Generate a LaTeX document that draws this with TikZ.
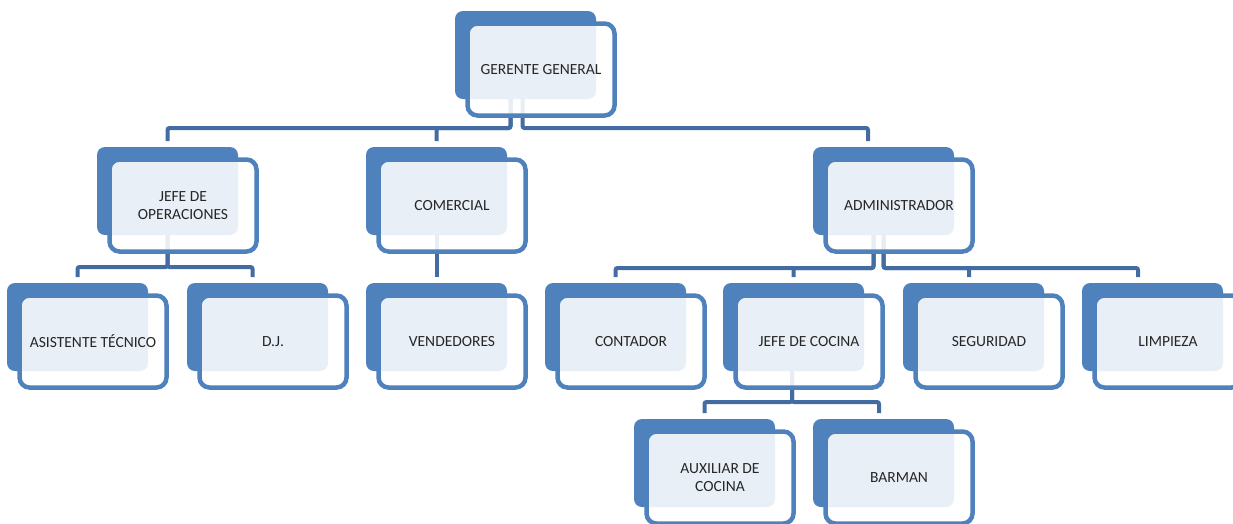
\documentclass[tikz,border=0pt]{standalone}
\usepackage{fontspec}
\setmainfont{Carlito}
\usetikzlibrary{calc}
\definecolor{boxblue}{RGB}{79,129,189}
\definecolor{connblue}{RGB}{66,108,162}
\definecolor{txtgray}{RGB}{38,38,38}
\pgfdeclarelayer{background}
\pgfsetlayers{background,main}
\tikzset{
  backbox/.style={rectangle, rounded corners=8pt, fill=boxblue, draw=none,
    minimum width=141pt, minimum height=88pt, inner sep=0pt, outer sep=0pt},
  frontbox/.style={rectangle, rounded corners=10pt, draw=boxblue, line width=4.5pt,
    fill=white, fill opacity=0.88, text opacity=1, text=txtgray,
    minimum width=147pt, minimum height=92pt, inner sep=0pt, outer sep=0pt,
    align=center, font=\fontsize{15.5pt}{18pt}\selectfont},
  conn/.style={draw=connblue, line width=4pt, rounded corners=2pt}
}
\newcommand\orgunit[4]{%
  \node[backbox] (#1-b) at (#2+70.5, #3+44) {};
  \node[frontbox] (#1) at (#2+86, #3+58.5) {#4};
}
\begin{document}
\begin{tikzpicture}[x=1pt,y=-1pt]
\useasboundingbox (0,0) rectangle (1233,523);
\clip (0,0) rectangle (1233,523);
% level 1
\orgunit{gg}{455}{11}{GERENTE GENERAL}
% level 2
\orgunit{jo}{97}{147}{JEFE DE\\OPERACIONES}
\orgunit{com}{366}{147}{COMERCIAL}
\orgunit{adm}{813}{147}{ADMINISTRADOR}
% level 3
\orgunit{as}{7}{283}{ASISTENTE TÉCNICO}
\orgunit{dj}{187}{283}{D.J.}
\orgunit{ven}{366}{283}{VENDEDORES}
\orgunit{con}{545}{283}{CONTADOR}
\orgunit{jc}{723}{283}{JEFE DE COCINA}
\orgunit{seg}{903}{283}{SEGURIDAD}
\orgunit{lim}{1082}{283}{LIMPIEZA}
% level 4
\orgunit{aux}{634}{419}{AUXILIAR DE\\COCINA}
\orgunit{bar}{813}{419}{BARMAN}
% connectors
\begin{pgfonlayer}{background}
  % gerente general
  \draw[conn] ([xshift=-15pt]gg-b.south) -- ++(0,-29pt) -| ([yshift=6pt]jo-b.north);
  \draw[conn] ([xshift=-15pt]gg-b.south) -- ++(0,-29pt) -| ([yshift=6pt]com-b.north);
  \draw[conn] ([xshift=-3pt]gg-b.south) -- ++(0,-29pt) -| ([xshift=-15.5pt,yshift=6pt]adm-b.north);
  % jefe de operaciones
  \draw[conn] (jo-b.south) -- ++(0,-32pt) -| ([yshift=6pt]as-b.north);
  \draw[conn] (jo-b.south) -- ++(0,-32pt) -| ([xshift=-5pt,yshift=6pt]dj-b.north);
  % comercial
  \draw[conn] (com-b.south) -- ([yshift=6pt]ven-b.north);
  % administrador
  \draw[conn] ([xshift=-10pt]adm-b.south) -- ++(0,-33pt) -| ([yshift=6pt]con-b.north);
  \draw[conn] ([xshift=-10pt]adm-b.south) -- ++(0,-33pt) -| ([yshift=6pt]jc-b.north);
  \draw[conn] (adm-b.south) -- ++(0,-33pt) -| ([xshift=-4.5pt,yshift=6pt]seg-b.north);
  \draw[conn] (adm-b.south) -- ++(0,-33pt) -| ([xshift=-14.5pt,yshift=6pt]lim-b.north);
  % jefe de cocina
  \draw[conn] ([xshift=-1.5pt]jc-b.south) -- ++(0,-31pt) -| ([yshift=6pt]aux-b.north);
  \draw[conn] ([xshift=-1.5pt]jc-b.south) -- ++(0,-31pt) -| ([xshift=-4.5pt,yshift=6pt]bar-b.north);
\end{pgfonlayer}
\end{tikzpicture}
\end{document}
